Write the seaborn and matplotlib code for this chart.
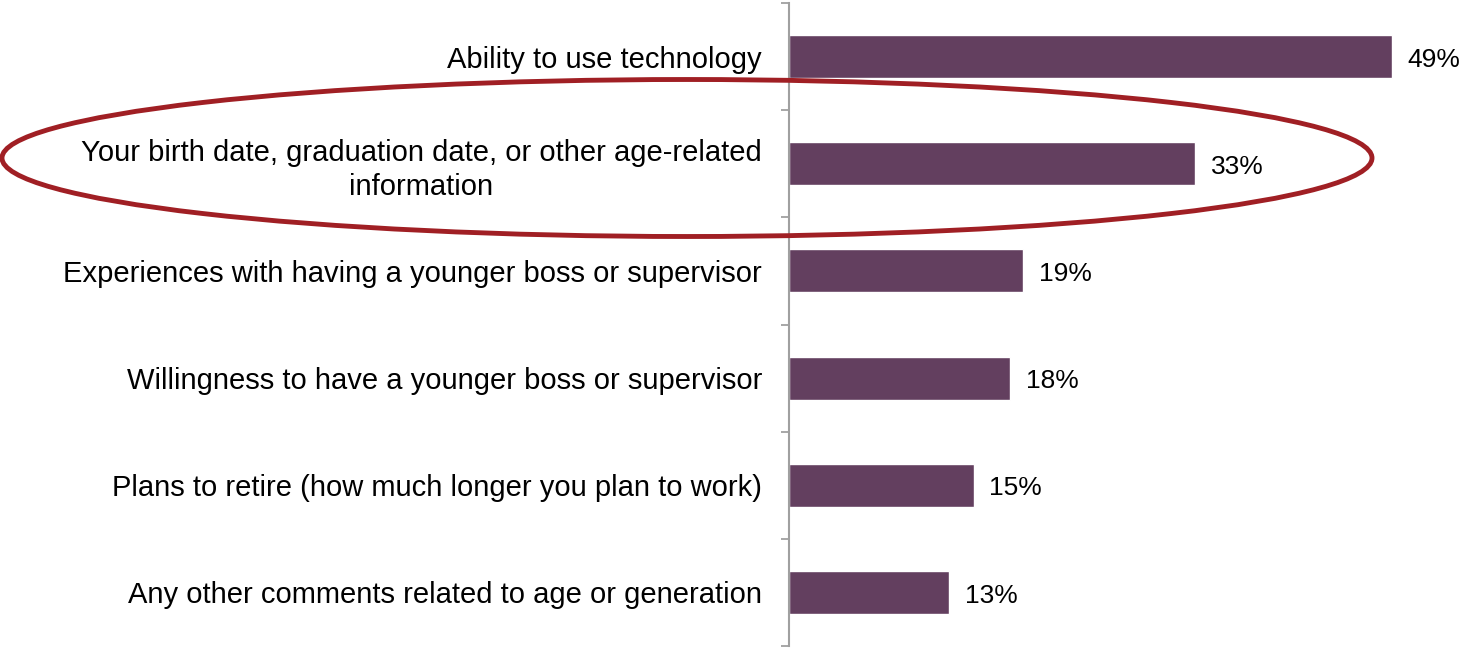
import matplotlib
matplotlib.use("Agg")
import matplotlib.pyplot as plt
import matplotlib.patches as mpatches
from matplotlib.ticker import FixedLocator
import pandas as pd
import seaborn as sns

# ── Data ───────────────────────────────────────────────────────────────────
categories = [
    "Ability to use technology",
    "Your birth date, graduation date, or other age-related\ninformation",
    "Experiences with having a younger boss or supervisor",
    "Willingness to have a younger boss or supervisor",
    "Plans to retire (how much longer you plan to work)",
    "Any other comments related to age or generation",
]
shares = [49, 33, 19, 18, 15, 13]

BAR_COLOR = "#633f5f"
AXIS_GREY = "#a0a0a0"
RING_RED = "#a01f24"

df = pd.DataFrame({"category": categories, "share": shares})

sns.set_style("white")
plt.rcParams["font.family"] = ["Liberation Sans", "DejaVu Sans"]
plt.rcParams["text.color"] = "black"
plt.rcParams["ytick.labelcolor"] = "black"

W, H = 1462, 649
fig = plt.figure(figsize=(W / 100, H / 100), dpi=100)
ax = fig.add_axes([789 / W, 3 / H, (W - 789) / W, 643 / H])

sns.barplot(data=df, x="share", y="category", color=BAR_COLOR,
            width=0.4, saturation=1, ax=ax)

ax.set_xlim(0, (W - 789) / 12.3)
ax.set_ylim(len(categories) - 0.5, -0.5)
ax.set_xlabel("")
ax.set_ylabel("")
ax.set_xticks([])

# labels at category centres, tick marks at category boundaries
ax.yaxis.set_minor_locator(FixedLocator([i - 0.5 for i in range(len(categories) + 1)]))
ax.tick_params(axis="y", which="major", length=0, pad=19.5, labelsize=21,
               labelcolor="black")
ax.tick_params(axis="y", which="minor", length=6, width=1.3, color=AXIS_GREY, left=True)
for lbl in ax.get_yticklabels():
    lbl.set_multialignment("center")
    lbl.set_linespacing(1.3)

for s in ["top", "right", "bottom"]:
    ax.spines[s].set_visible(False)
ax.spines["left"].set_color(AXIS_GREY)
ax.spines["left"].set_linewidth(1.5)

for i, v in enumerate(shares):
    ax.text(v + 1.3, i + 0.03, f"{v}%", va="center", ha="left", fontsize=19,
            color="black")

# highlight ring around the second item
ring = mpatches.Ellipse((687 / W, 1 - 158 / H), 1370 / W, 157 / H,
                        transform=fig.transFigure, fill=False,
                        edgecolor=RING_RED, linewidth=3.5, zorder=10)
fig.patches.append(ring)

fig.savefig("out.png", dpi=100)
